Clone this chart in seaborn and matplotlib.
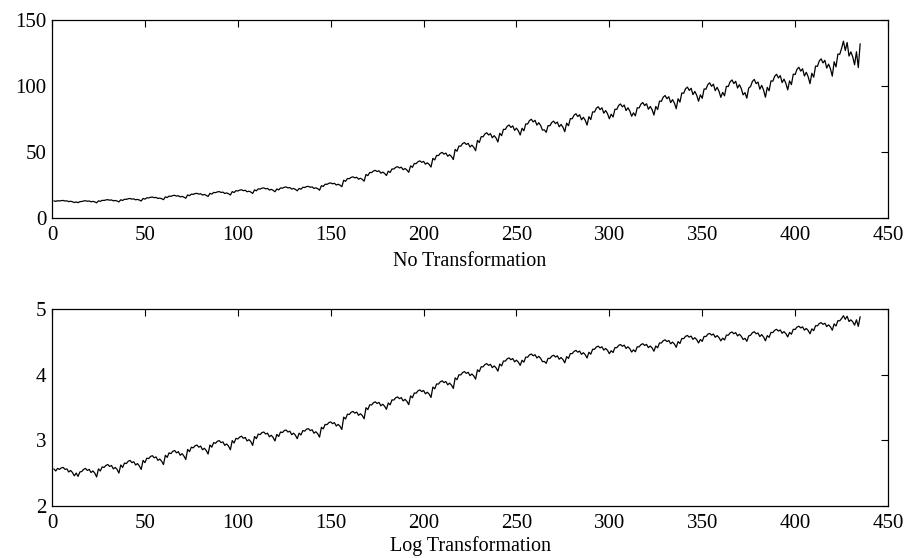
import numpy as np
import pandas as pd
import matplotlib
matplotlib.use("Agg")
import matplotlib.pyplot as plt
import seaborn as sns

# Monthly series, one row per year (435 observations)
series_values = [
    13.0, 12.6, 13.1, 12.9, 13.2, 13.3, 12.9, 13.0, 12.4, 12.7, 12.3, 11.7,
    12.2, 11.6, 12.4, 12.5, 12.9, 13.1, 12.7, 12.9, 12.3, 12.6, 12.2, 11.5,
    13.0, 12.6, 13.4, 13.3, 13.7, 13.9, 13.5, 13.7, 13.0, 13.3, 12.9, 12.2,
    13.8, 13.3, 14.2, 14.1, 14.6, 14.8, 14.3, 14.5, 13.8, 14.1, 13.6, 12.9,
    14.8, 14.3, 15.3, 15.2, 15.7, 15.9, 15.4, 15.6, 14.8, 15.1, 14.6, 13.9,
    16.0, 15.5, 16.6, 16.4, 17.0, 17.2, 16.6, 16.9, 16.0, 16.4, 15.8, 15.0,
    17.5, 16.9, 18.1, 17.9, 18.5, 18.7, 18.1, 18.4, 17.4, 17.8, 17.2, 16.3,
    18.7, 18.1, 19.4, 19.2, 19.8, 20.0, 19.4, 19.6, 18.6, 19.0, 18.4, 17.4,
    20.0, 19.3, 20.7, 20.5, 21.1, 21.4, 20.7, 21.0, 19.9, 20.3, 19.7, 18.6,
    21.3, 20.6, 22.1, 21.9, 22.6, 22.8, 22.1, 22.4, 21.2, 21.7, 21.0, 19.9,
    22.0, 21.3, 22.8, 22.6, 23.3, 23.5, 22.8, 23.1, 21.9, 22.4, 21.7, 20.6,
    22.4, 21.8, 23.3, 23.1, 23.8, 24.0, 23.3, 23.6, 22.4, 22.9, 22.2, 21.1,
    24.5, 23.9, 25.6, 25.5, 26.3, 26.6, 25.9, 26.3, 25.0, 25.6, 24.9, 23.7,
    28.6, 27.8, 29.9, 29.8, 30.8, 31.2, 30.4, 30.9, 29.4, 30.1, 29.3, 27.9,
    33.0, 32.1, 34.5, 34.4, 35.6, 36.1, 35.2, 35.8, 34.0, 34.8, 33.8, 32.2,
    35.5, 34.5, 37.2, 37.1, 38.4, 38.9, 37.9, 38.5, 36.6, 37.5, 36.4, 34.6,
    39.5, 38.4, 41.3, 41.2, 42.7, 43.3, 42.2, 42.9, 40.8, 41.8, 40.6, 38.6,
    45.2, 44.0, 47.4, 47.3, 49.0, 49.7, 48.4, 49.2, 46.8, 48.0, 46.6, 44.3,
    52.0, 50.6, 54.5, 54.4, 56.4, 57.2, 55.7, 56.6, 53.8, 55.2, 53.6, 51.0,
    58.8, 57.2, 61.6, 61.5, 63.7, 64.6, 62.9, 63.9, 60.8, 62.4, 60.6, 57.6,
    64.2, 62.4, 67.2, 67.1, 69.5, 70.5, 68.6, 69.8, 66.4, 68.1, 66.1, 62.9,
    68.0, 66.1, 71.3, 71.2, 73.8, 74.8, 72.8, 74.0, 70.4, 72.2, 70.1, 66.6,
    66.8, 64.9, 70.0, 69.9, 72.4, 73.4, 71.5, 72.7, 69.1, 70.9, 68.8, 65.4,
    71.9, 69.9, 75.3, 75.2, 77.9, 79.0, 76.9, 78.2, 74.4, 76.3, 74.1, 70.4,
    76.8, 74.6, 80.4, 80.3, 83.2, 84.3, 82.1, 83.5, 79.4, 81.4, 79.1, 75.2,
    78.7, 76.5, 82.4, 82.3, 85.3, 86.4, 84.2, 85.6, 81.4, 83.5, 81.1, 77.1,
    79.7, 77.4, 83.5, 83.4, 86.3, 87.5, 85.2, 86.6, 82.4, 84.5, 82.1, 78.0,
    84.5, 82.2, 88.6, 88.4, 91.6, 92.8, 90.4, 91.9, 87.4, 89.7, 87.1, 82.8,
    90.4, 87.8, 94.7, 94.5, 97.9, 99.2, 96.7, 98.3, 93.5, 95.9, 93.1, 88.5,
    93.3, 90.7, 97.8, 97.6, 101.1, 102.4, 99.8, 101.4, 96.5, 99.0, 96.1, 91.4,
    95.2, 92.6, 99.8, 99.6, 103.2, 104.6, 101.9, 103.6, 98.5, 101.0, 98.1, 93.3,
    95.0, 90.8, 98.5, 99.6, 103.5, 105.0, 101.8, 103.0, 97.6, 100.5, 97.0, 91.5,
    99.0, 96.4, 103.9, 103.7, 107.4, 108.9, 106.1, 107.9, 102.6, 105.2, 102.1, 97.1,
    103.9, 101.1, 109.0, 108.7, 112.7, 114.2, 111.3, 113.1, 107.6, 110.4, 107.1, 101.8,
    109.7, 106.7, 115.1, 114.9, 119.0, 120.6, 117.5, 119.5, 113.6, 116.6, 113.1, 107.5,
    118.4, 114.5, 124.2, 124.0, 128.5, 134.0, 126.9, 133.0, 122.7, 125.9, 122.1, 116.1,
    126.0, 114.0, 132.0,
]

x_ticks = [0, 50, 100, 150, 200, 250, 300, 350, 400, 450]
top_y_ticks = [0, 50, 100, 150]
bottom_y_ticks = [2, 3, 4, 5]
panel_titles = ["No Transformation", "Log Transformation"]

df = pd.DataFrame({
    "t": np.arange(1, len(series_values) + 1),
    "raw": series_values,
})
df["log"] = np.log(df["raw"])

sns.set_theme(style="white")
plt.rcParams["font.family"] = ["Liberation Serif", "DejaVu Serif"]
plt.rcParams["xtick.direction"] = "in"
plt.rcParams["ytick.direction"] = "in"
for key in ("text.color", "axes.labelcolor", "xtick.color", "ytick.color",
            "axes.edgecolor"):
    plt.rcParams[key] = "black"

fig = plt.figure(figsize=(9.08, 5.58), dpi=100)
ax_top = fig.add_axes([0.0573, 0.6093, 0.9207, 0.3548])
ax_bot = fig.add_axes([0.0573, 0.0932, 0.9207, 0.3530])

specs = [
    (ax_top, "raw", top_y_ticks, panel_titles[0], 5),
    (ax_bot, "log", bottom_y_ticks, panel_titles[1], 2),
]
for ax, col, yt, title, lpad in specs:
    sns.lineplot(data=df, x="t", y=col, ax=ax, color="black", linewidth=0.9)
    ax.set_xlim(x_ticks[0], x_ticks[-1])
    ax.set_ylim(yt[0], yt[-1])
    ax.set_xticks(x_ticks)
    ax.set_yticks(yt)
    ax.set_xlabel(title, fontsize=14.5, labelpad=lpad, color="black")
    ax.set_ylabel("")
    ax.tick_params(axis="y", labelsize=15, length=5, width=0.8,
                   right=True, color="black", labelcolor="black", pad=4)
    ax.tick_params(axis="x", labelsize=15, length=5, width=0.8,
                   top=True, color="black", labelcolor="black", pad=6)
    for s in ax.spines.values():
        s.set_color("black")
        s.set_linewidth(0.9)

fig.savefig("out.png", dpi=100, facecolor="white")
